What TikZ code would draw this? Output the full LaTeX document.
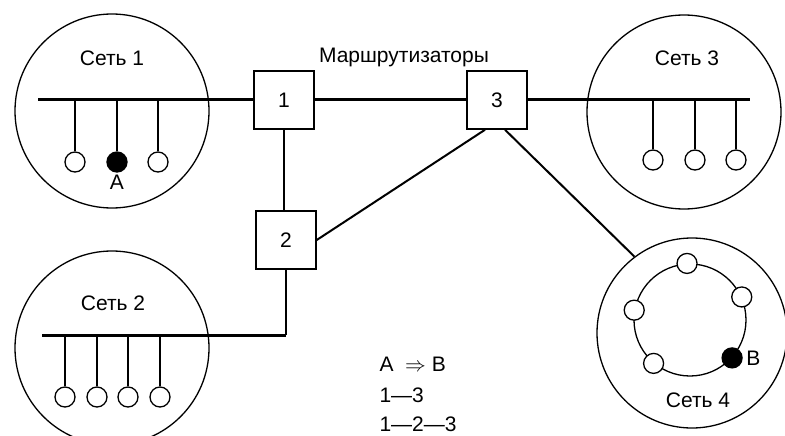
\documentclass[tikz,border=0pt]{standalone}
\usepackage{fontspec}
\setmainfont{Liberation Sans}
\usepackage{amsmath}
\usetikzlibrary{positioning,calc}

\begin{document}
\begin{tikzpicture}[x=1pt, y=-1pt,
  font=\fontsize{21}{24}\selectfont,
  net/.style={draw, circle, minimum size=194pt, inner sep=0pt, line width=1.3pt},
  router/.style={draw, fill=white, minimum width=60pt, minimum height=58pt, line width=1.5pt},
  host/.style={draw, circle, fill=white, minimum size=20pt, inner sep=0pt, line width=1.3pt},
  hostB/.style={host, fill=black},
  bus/.style={line width=3pt},
  link/.style={line width=2pt}]
\useasboundingbox (0,0) rectangle (785,436);
\node[net] (net1) at (112,111) {};
\node[net] (net2) at (112,348) {};
\node[net] (net3) at (684,112) {};
\node[net, minimum size=190pt] (net4) at (692,333) {};
\node (lnet1) at (112,58) {Сеть 1};
\node (lnet2) at (113,303) {Сеть 2};
\node (lnet3) at (687,58) {Сеть 3};
\node (lnet4) at (698,400) {Сеть 4};
\node[router] (r1) at (284,100) {1};
\node[router] (r2) at (286,240) {2};
\node[router] (r3) at (497,100) {3};
\node (lrt) at (404,57) {Маршрутизаторы};
\coordinate (bus1) at (38,100);
\coordinate (bus2) at (42,335);
\coordinate (bus3) at (750,100);
\node[host] (s1a) at (75,162) {};
\node[hostB] (s1b) at (117,162) {};
\node[host] (s1c) at (158,162) {};
\node[below=-1pt of s1b] (lA) {A};
\node[host] (s3a) at (653,160) {};
\node[host] (s3b) at (695,160) {};
\node[host] (s3c) at (736,160) {};
\node[host] (s2a) at (65,397) {};
\node[host] (s2b) at (97,397) {};
\node[host] (s2c) at (128,397) {};
\node[host] (s2d) at (160,397) {};
\node[draw, circle, minimum size=112pt, line width=1.3pt] (ring) at (690,320) {};
\node[host] (s4a) at (ring.93) {};
\node[host] (s4b) at (ring.24) {};
\node[host] (s4c) at (ring.170) {};
\node[host] (s4d) at (ring.230) {};
\node[hostB] (s4e) at (ring.318) {};
\node[right=0pt of s4e] (lB) {B};
\node[anchor=west] (leg1) at (376,364) {A~~$\Rightarrow$ B};
\node[anchor=west] (leg2) at (376,395) {1—3};
\node[anchor=west] (leg3) at (376,424) {1—2—3};
\draw[bus] (bus1) -- (r1.west);
\draw[bus] (r1.east) -- (r3.west);
\draw[bus] (r3.east) -- (bus3);
\draw[bus] (bus2) -- (bus2 -| r2.south);
\draw[link] (r2.south) -- (bus2 -| r2.south);
\draw[link] (r1.south) -- (r1.south |- r2.north);
\draw[link] (r2.east) -- ([xshift=-12pt]r3.south);
\draw[link] ([xshift=8pt]r3.south) -- (net4.127);
\draw[link] (s1a) -- (s1a |- bus1);
\draw[link] (s1b) -- (s1b |- bus1);
\draw[link] (s1c) -- (s1c |- bus1);
\draw[link] (s3a) -- (s3a |- bus3);
\draw[link] (s3b) -- (s3b |- bus3);
\draw[link] (s3c) -- (s3c |- bus3);
\draw[link] (s2a) -- (s2a |- bus2);
\draw[link] (s2b) -- (s2b |- bus2);
\draw[link] (s2c) -- (s2c |- bus2);
\draw[link] (s2d) -- (s2d |- bus2);
\end{tikzpicture}
\end{document}
